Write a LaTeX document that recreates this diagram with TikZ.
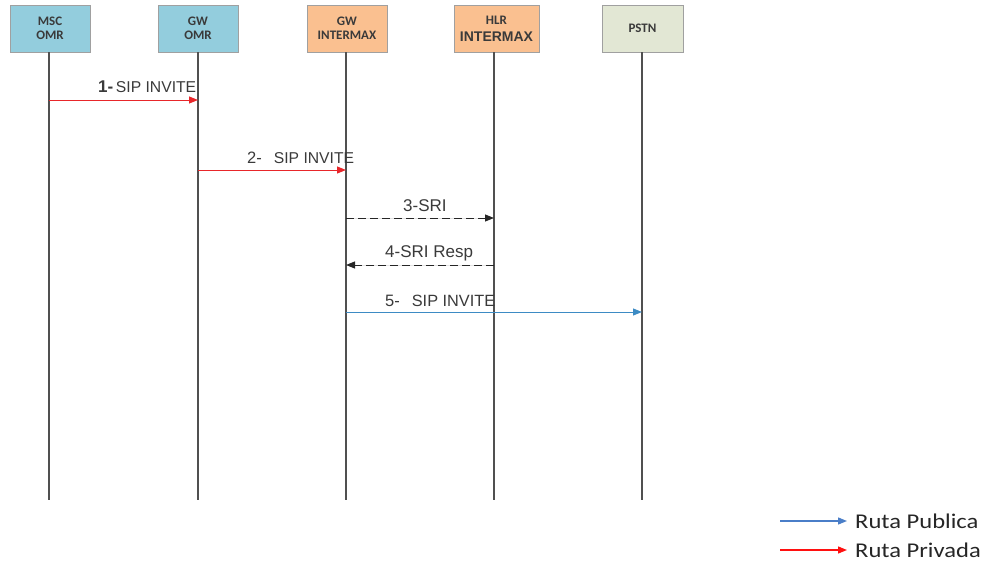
\documentclass[tikz,border=0pt]{standalone}
\usepackage{fontspec}
\setmainfont{Liberation Sans}
\newfontfamily\calfont{Carlito}
\usetikzlibrary{arrows.meta}
\definecolor{boxblue}{HTML}{93CDDD}
\definecolor{boxorange}{HTML}{FAC090}
\definecolor{boxgreen}{HTML}{E2E7D4}
\definecolor{boxline}{HTML}{A0A0A0}
\definecolor{lifegray}{HTML}{505050}
\definecolor{txtgray}{HTML}{3A3A3A}
\definecolor{msgred}{HTML}{E8262A}
\definecolor{msgblue}{HTML}{3D8BC4}
\definecolor{legblue}{HTML}{4A7EC8}
\definecolor{legred}{HTML}{FF1010}
\begin{document}
\begin{tikzpicture}[x=1pt,y=-1pt,
  ent/.style={draw=boxline,line width=0.9pt,minimum width=80pt,minimum height=47pt,inner sep=0pt,
    align=center,font=\calfont\fontsize{13}{14}\selectfont\bfseries,text=txtgray},
  life/.style={draw=lifegray,line width=1.1pt},
  tip/.style={-{Triangle[length=9pt,width=7pt]}},
  msgr/.style={tip,draw=msgred,fill=msgred,line width=1pt},
  msgb/.style={tip,draw=msgblue,fill=msgblue,line width=1pt},
  msgk/.style={tip,draw=black!85,fill=black!85,line width=1pt,dash pattern=on 8pt off 4pt},
  lbl/.style={anchor=west,inner sep=0pt,text=txtgray,font=\fontsize{15.7}{17}\selectfont},
  leg/.style={anchor=west,inner sep=0pt,text=black!85,font=\calfont\fontsize{21}{24}\selectfont},
  legarr/.style={-{Triangle[length=9pt,width=7pt]},line width=1.3pt}]
\useasboundingbox (0,0) rectangle (986,562);
% entities
\node[ent,fill=boxblue] (msc) at (50,28.5) {MSC\\OMR};
\node[ent,fill=boxblue] (gwo) at (198,28.5) {GW\\OMR};
\node[ent,fill=boxorange] (gwi) at (347,28.5) {GW\\INTERMAX};
\node[ent,fill=boxorange,minimum width=85pt] (hlr) at (496.5,28.5) {HLR\\[3pt]{\rmfamily\fontsize{14}{14}\selectfont INTERMAX}};
\node[ent,fill=boxgreen,minimum width=81pt] (pstn) at (642.5,28.5) {PSTN};
% lifeline ends
\coordinate (e1) at (49,500);
\coordinate (e2) at (198,500);
\coordinate (e3) at (346,500);
\coordinate (e4) at (494,500);
\coordinate (e5) at (642,500);
\draw[life] (msc.south -| e1) -- (e1);
\draw[life] (gwo.south -| e2) -- (e2);
\draw[life] (gwi.south -| e3) -- (e3);
\draw[life] (hlr.south -| e4) -- (e4);
\draw[life] (pstn.south -| e5) -- (e5);
% message points
\coordinate (m1a) at (49,100);  \coordinate (m1b) at (198,100);
\coordinate (m2a) at (198,170); \coordinate (m2b) at (346,170);
\coordinate (m3a) at (346,218); \coordinate (m3b) at (494,218);
\coordinate (m4a) at (494,265); \coordinate (m4b) at (346,265);
\coordinate (m5a) at (346,312); \coordinate (m5b) at (642,312);
\draw[msgr] (m1a) -- (m1b);
\draw[msgr] (m2a) -- (m2b);
\draw[msgk] (m3a) -- (m3b);
\draw[msgk] (m4a) -- (m4b);
\draw[msgb] (m5a) -- (m5b);
% labels
\node[lbl] (l1) at (98,87) {{\fontsize{17}{18}\selectfont\bfseries 1-}\,SIP INVITE};
\node[lbl] (l2) at (247,158) {{\fontsize{16.5}{18}\selectfont 2-}\hspace{12pt}SIP INVITE};
\node[lbl,font=\fontsize{17}{18}\selectfont] (l3) at (403,206) {3-SRI};
\node[lbl,font=\fontsize{17}{18}\selectfont] (l4) at (385,253) {4-SRI Resp};
\node[lbl] (l5) at (385,301) {{\fontsize{16.5}{18}\selectfont 5-}\hspace{12pt}{\fontsize{16.3}{18}\selectfont SIP INVITE}};
% legend
\coordinate (lb1) at (780,521); \coordinate (lb2) at (847,521);
\coordinate (lr1) at (780,550); \coordinate (lr2) at (847,550);
\draw[legarr,draw=legblue,fill=legblue] (lb1) -- (lb2);
\draw[legarr,draw=legred,fill=legred] (lr1) -- (lr2);
\node[leg] (t1) at (855,521) {\scalebox{1.17}[1]{Ruta Publica}};
\node[leg] (t2) at (855,550) {\scalebox{1.17}[1]{Ruta Privada}};
\end{tikzpicture}
\end{document}
